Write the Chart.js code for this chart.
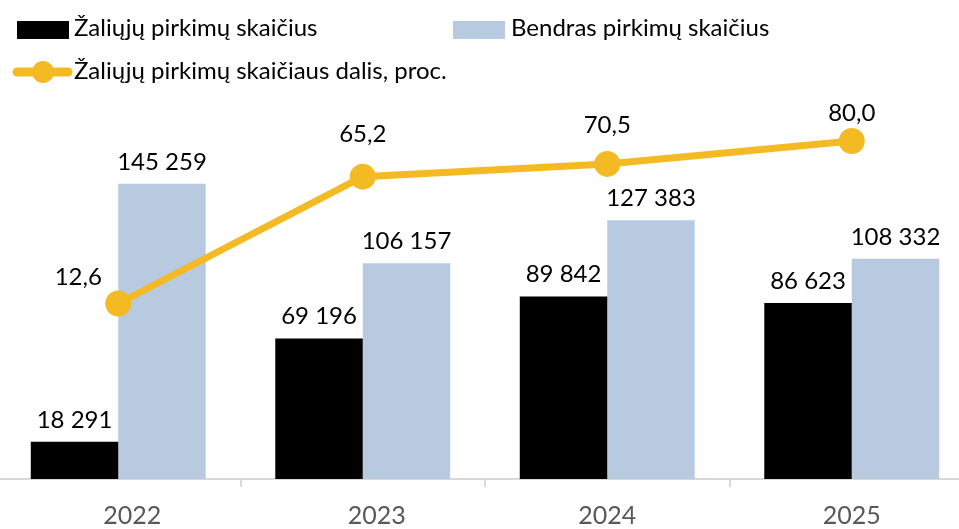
<!DOCTYPE html>
<html>
<head>
<meta charset="utf-8">
<script src="https://cdn.jsdelivr.net/npm/chart.js@4/dist/chart.umd.min.js"></script>
<style>
  html, body { margin: 0; padding: 0; background: #fff; overflow: hidden; width: 959px; height: 529px; }
  #wrap { position: absolute; left: -17px; top: 0; width: 1004px; height: 529px; }
  canvas { display: block; }
</style>
</head>
<body>
<div id="wrap"><canvas id="c" width="1004" height="529"></canvas></div>
<script>
const categories = ['2022', '2023', '2024', '2025'];
const greenCounts = [18291, 69196, 89842, 86623];
const totalCounts = [145259, 106157, 127383, 108332];
const greenShare = [12.6, 65.2, 70.5, 80.0];
const seriesNames = ['Žaliųjų pirkimų skaičius', 'Bendras pirkimų skaičius', 'Žaliųjų pirkimų skaičiaus dalis, proc.'];

const FONT = 'Lato, "Open Sans", sans-serif';
const BLACK = '#000000';
const BLUE = '#B8CADF';
const YELLOW = '#F4BA24';
const SX = 17; // canvas shifted left by this many px

// label offsets (style) for line points: [dx, dy] from point centre to text centre
const lineLabelOffsets = [[-40, -26], [0, -42], [0, -39], [0, -28]];
// horizontal offsets (style) of category tick labels from the category centre
const tickLabelOffsets = [14, 14, 0, 0];

function fmtInt(v) { return String(v).replace(/\B(?=(\d{3})+(?!\d))/g, ' '); }
function fmtPct(v) { return v.toFixed(1).replace('.', ','); }

const labelsPlugin = {
  id: 'valueLabels',
  afterDatasetsDraw(chart) {
    const ctx = chart.ctx;
    ctx.save();
    ctx.fillStyle = '#000';
    ctx.font = '24px ' + FONT;
    ctx.textAlign = 'center';
    chart.data.datasets.forEach((ds, di) => {
      const meta = chart.getDatasetMeta(di);
      meta.data.forEach((el, i) => {
        if (ds.type === 'line') {
          const o = lineLabelOffsets[i];
          ctx.textBaseline = 'middle';
          ctx.fillText(fmtPct(ds.data[i]), el.x + o[0], el.y + o[1]);
        } else {
          ctx.textBaseline = 'alphabetic';
          ctx.fillText(fmtInt(ds.data[i]), el.x, el.y - 14);
        }
      });
    });
    ctx.restore();
  }
};

const tickLabelsPlugin = {
  id: 'tickLabels',
  afterDraw(chart) {
    const ctx = chart.ctx;
    const xs = chart.scales.x;
    ctx.save();
    ctx.fillStyle = '#595959';
    ctx.font = '25px ' + FONT;
    ctx.textAlign = 'center';
    ctx.textBaseline = 'middle';
    chart.data.labels.forEach((lab, i) => {
      ctx.fillText(lab, xs.getPixelForTick(i) + tickLabelOffsets[i], xs.top + 37);
    });
    ctx.restore();
  }
};

const legendPlugin = {
  id: 'customLegend',
  afterDraw(chart) {
    const ctx = chart.ctx;
    const sx = SX;
    ctx.save();
    ctx.font = '24px ' + FONT;
    ctx.fillStyle = '#000';
    ctx.textBaseline = 'alphabetic';
    ctx.textAlign = 'left';
    const ds = chart.data.datasets;
    // item 1
    ctx.fillStyle = ds[0].backgroundColor;
    ctx.fillRect(17 + sx, 21, 52, 18);
    ctx.fillStyle = '#000';
    ctx.fillText(ds[0].label, 74 + sx, 36);
    // item 2
    ctx.fillStyle = ds[1].backgroundColor;
    ctx.fillRect(453 + sx, 21, 52, 18);
    ctx.fillStyle = '#000';
    ctx.fillText(ds[1].label, 511 + sx, 36);
    // item 3 (line)
    ctx.strokeStyle = ds[2].borderColor;
    ctx.lineWidth = 9;
    ctx.lineCap = 'round';
    ctx.beginPath();
    ctx.moveTo(17 + sx, 72);
    ctx.lineTo(68 + sx, 72);
    ctx.stroke();
    ctx.fillStyle = ds[2].borderColor;
    ctx.beginPath();
    ctx.arc(43 + sx, 72, 11, 0, Math.PI * 2);
    ctx.fill();
    ctx.fillStyle = '#000';
    ctx.fillText(ds[2].label, 74 + sx, 79);
    ctx.restore();
  }
};

new Chart(document.getElementById('c'), {
  data: {
    labels: categories,
    datasets: [
      {
        type: 'bar', label: seriesNames[0], data: greenCounts,
        backgroundColor: BLACK, yAxisID: 'y', order: 2,
        categoryPercentage: 0.7155, barPercentage: 1.0
      },
      {
        type: 'bar', label: seriesNames[1], data: totalCounts,
        backgroundColor: BLUE, yAxisID: 'y', order: 2,
        categoryPercentage: 0.7155, barPercentage: 1.0
      },
      {
        type: 'line', label: seriesNames[2], data: greenShare,
        borderColor: YELLOW, backgroundColor: YELLOW, borderWidth: 7,
        pointRadius: 13, pointBackgroundColor: YELLOW, pointBorderWidth: 0,
        yAxisID: 'y2', order: 0, tension: 0
      }
    ]
  },
  options: {
    responsive: false,
    animation: false,
    devicePixelRatio: 1,
    layout: { padding: { top: 100, left: 0, right: 0, bottom: 0 } },
    plugins: { legend: { display: false }, tooltip: { enabled: false } },
    scales: {
      x: {
        offset: true,
        grid: { offset: true, drawOnChartArea: false, drawTicks: true, tickLength: 8, color: '#D9D9D9', lineWidth: 2 },
        border: { display: true, color: '#D9D9D9', width: 2 },
        ticks: { display: false, color: '#595959', font: { family: FONT, size: 25 }, padding: 14 },
        afterFit(scale) { scale.height = 50; }
      },
      y: { display: false, min: 0, max: 186500 },
      y2: { display: false, min: -60.2, max: 97.0, position: 'right' }
    }
  },
  plugins: [labelsPlugin, tickLabelsPlugin, legendPlugin]
});
</script>
</body>
</html>
